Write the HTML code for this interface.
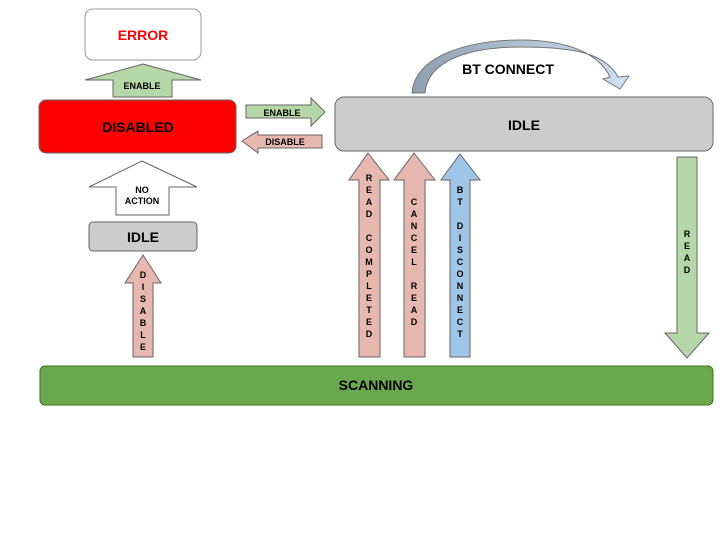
<!DOCTYPE html>
<html><head><meta charset="utf-8"><style>
html,body{margin:0;padding:0;background:#fff;}
svg text{font-family:"Liberation Sans",Arial,sans-serif;font-weight:bold;}
</style></head><body>
<svg width="720" height="540" viewBox="0 0 720 540" xmlns="http://www.w3.org/2000/svg">
<defs>
<linearGradient id="g" x1="0" y1="0" x2="1" y2="0">
<stop offset="0" stop-color="#8d9fb0"/><stop offset="1" stop-color="#cfe2f3"/>
</linearGradient>
</defs>
<g stroke="#666" stroke-width="1">
<rect x="85" y="9" width="116" height="51" rx="8" fill="#fff" stroke="#999"/>
<polygon points="143,64 201,80 172,80 172,97 113,97 113,80 85,80" fill="#b6d7a8"/>
<rect x="39" y="100" width="197" height="53" rx="7" fill="#ff0000"/>
<polygon points="246,105 311,105 311,98 325,112 311,126 311,118 246,118" fill="#b6d7a8"/>
<polygon points="242,141 258,131 258,135 322,135 322,148 258,148 258,153" fill="#e6b8af"/>
<polygon points="142,161 197,187 169,187 169,215 116,215 116,187 89,187" fill="#fff"/>
<rect x="89" y="222" width="108" height="29" rx="4" fill="#cccccc"/>
<polygon points="143,255 161,283 153,283 153,357 133,357 133,283 125,283" fill="#e6b8af"/>
<rect x="335" y="97" width="378" height="54" rx="9" fill="#cccccc"/>
<polygon points="368,153 389,180 380,180 380,357 359,357 359,180 349,180" fill="#e6b8af"/>
<polygon points="414,153 435,180 425,180 425,357 404,357 404,180 394,180" fill="#e6b8af"/>
<polygon points="460,154 480,180 470,180 470,357 450,357 450,180 441,180" fill="#9fc5e8"/>
<polygon points="677,157 697,157 697,333 709,333 687,358 665,333 677,333" fill="#b6d7a8"/>
<rect x="40" y="366" width="673" height="39" rx="5" fill="#6aa84f" stroke="#38761d"/>
<path d="M412,93 C415,55 470,40 520,40 C570,40 600,55 610,77 L603,79 L620,89 L629,76 L618,77 C605,52 570,47 520,47 C475,47 428,58 425,93 Z" fill="url(#g)" stroke="#777"/>
</g>
<g font-size="14" text-anchor="middle">
<text x="143" y="40" fill="#ff0000">ERROR</text>
<text x="138" y="132" fill="#000">DISABLED</text>
<text x="143" y="242" fill="#000">IDLE</text>
<text x="524" y="130" fill="#000">IDLE</text>
<text x="376" y="390" fill="#000">SCANNING</text>
<text x="508" y="74" fill="#000">BT CONNECT</text>
</g>
<g font-size="9" text-anchor="middle" fill="#000">
<text x="142" y="89">ENABLE</text>
<text x="282" y="116">ENABLE</text>
<text x="285" y="145">DISABLE</text>
<text x="142" y="193">NO</text>
<text x="142" y="204">ACTION</text>
</g>
<g font-size="9" text-anchor="middle" fill="#000">
<text x="143" y="278">D</text><text x="143" y="290">I</text><text x="143" y="302">S</text><text x="143" y="314">A</text><text x="143" y="326">B</text><text x="143" y="338">L</text><text x="143" y="350">E</text>
<text x="369" y="181">R</text><text x="369" y="193">E</text><text x="369" y="205">A</text><text x="369" y="217">D</text>
<text x="369" y="241">C</text><text x="369" y="253">O</text><text x="369" y="265">M</text><text x="369" y="277">P</text><text x="369" y="289">L</text><text x="369" y="301">E</text><text x="369" y="313">T</text><text x="369" y="325">E</text><text x="369" y="337">D</text>
<text x="414" y="205">C</text><text x="414" y="217">A</text><text x="414" y="229">N</text><text x="414" y="241">C</text><text x="414" y="253">E</text><text x="414" y="265">L</text>
<text x="414" y="289">R</text><text x="414" y="301">E</text><text x="414" y="313">A</text><text x="414" y="325">D</text>
<text x="460" y="193">B</text><text x="460" y="205">T</text>
<text x="460" y="229">D</text><text x="460" y="241">I</text><text x="460" y="253">S</text><text x="460" y="265">C</text><text x="460" y="277">O</text><text x="460" y="289">N</text><text x="460" y="301">N</text><text x="460" y="313">E</text><text x="460" y="325">C</text><text x="460" y="337">T</text>
<text x="687" y="237">R</text><text x="687" y="249">E</text><text x="687" y="261">A</text><text x="687" y="273">D</text>
</g>
</svg>
</body></html>
